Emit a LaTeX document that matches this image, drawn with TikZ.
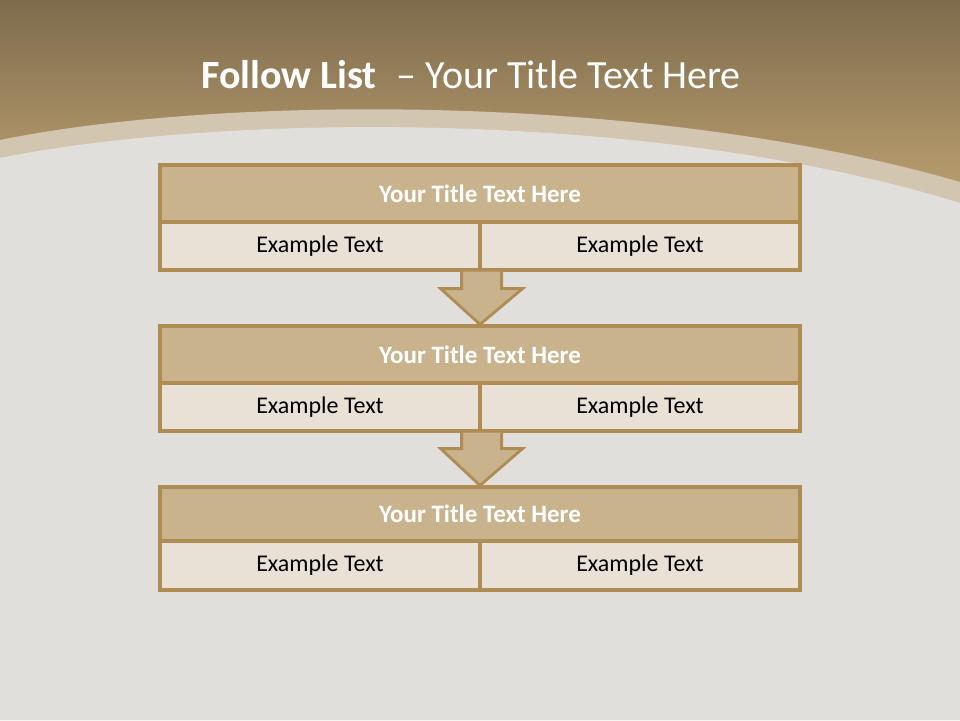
\documentclass[tikz,border=0pt]{standalone}
\usepackage{fontspec}
\setmainfont{Carlito}
\usetikzlibrary{calc}
\definecolor{topdark}{HTML}{7E6C4D}
\definecolor{toplight}{HTML}{BFA272}
\definecolor{bandcol}{HTML}{D3C6B0}
\definecolor{canvas}{HTML}{E1DFDB}
\definecolor{edge}{HTML}{B08C55}
\definecolor{headfill}{HTML}{C9B38D}
\definecolor{cellfill}{HTML}{E9E1D5}

\begin{document}
\begin{tikzpicture}[x=1pt, y=-1pt,
  head/.style={draw=edge, fill=headfill, line width=3.2pt, minimum width=640pt, minimum height=57pt, inner sep=0pt, text=white, font=\fontsize{25}{30}\selectfont\bfseries},
  cell/.style={draw=edge, fill=cellfill, line width=3.2pt, minimum width=320pt, minimum height=48pt, inner sep=0pt, font=\fontsize{24}{29}\selectfont},
  blockarrow/.style={draw=edge, fill=headfill, line width=2.8pt, line join=miter}]
\useasboundingbox (0,0) rectangle (960,720);
% background
\fill[canvas] (0,0) rectangle (960,720);
\shade[top color=topdark, bottom color=toplight] (0,0) rectangle (960,210);
\fill[bandcol] (0,140) .. controls (220,95) and (650,92) .. (960,182) -- (960,720) -- (0,720) -- cycle;
\fill[canvas] (0,158) .. controls (230,112) and (660,110) .. (960,203) -- (960,720) -- (0,720) -- cycle;
% title
\node[text=white, font=\fontsize{40}{48}\selectfont] (title) at (471,75) {\textbf{Follow List}\enspace– Your Title Text Here};
% first block
\node[head] (t1) at (480,193.5) {Your Title Text Here};
\node[cell] (a1) at (320,246) {Example Text};
\node[cell] (b1) at (640,246) {Example Text};
% second block
\node[head] (t2) at (480,354.5) {Your Title Text Here};
\node[cell] (a2) at (320,407) {Example Text};
\node[cell] (b2) at (640,407) {Example Text};
% third block
\node[head, minimum height=54pt] (t3) at (480,514) {Your Title Text Here};
\node[cell, minimum height=49pt] (a3) at (320,565.5) {Example Text};
\node[cell, minimum height=49pt] (b3) at (640,565.5) {Example Text};
% arrows
\draw[blockarrow] ($(a1.south east)+(-20,0)$) -- ++(0,17) -- ++(-21,0) -- (t2.north) -- ($(a1.south east)+(41,17)$) -- ++(-21,0) -- ($(a1.south east)+(20,0)$);
\draw[blockarrow] ($(a2.south east)+(-20,0)$) -- ++(0,16) -- ++(-21,0) -- (t3.north) -- ($(a2.south east)+(41,16)$) -- ++(-21,0) -- ($(a2.south east)+(20,0)$);
\end{tikzpicture}
\end{document}
